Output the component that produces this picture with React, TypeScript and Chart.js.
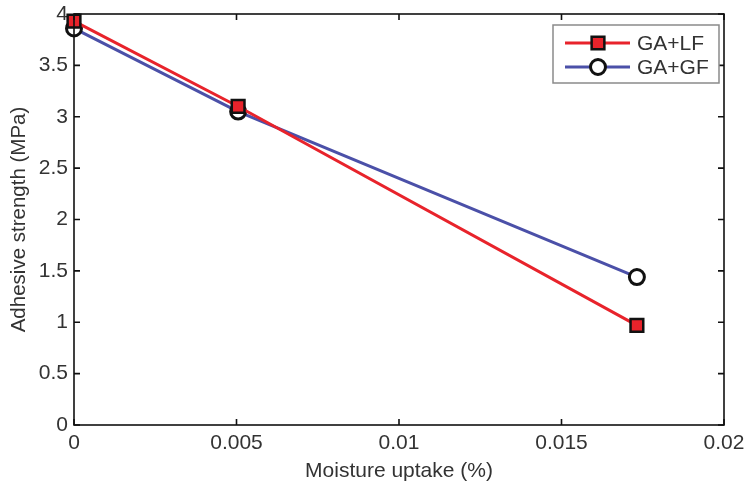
import React, { useEffect, useRef } from "react";
import { Chart, registerables } from "chart.js";

Chart.register(...registerables);

const xTicks = [0, 0.005, 0.01, 0.015, 0.02];
const yTicks = [0, 0.5, 1, 1.5, 2, 2.5, 3, 3.5, 4];
const moisture = [0, 0.00505, 0.01732];
const gaLF = [3.93, 3.1, 0.97];
const gaGF = [3.86, 3.05, 1.44];
const seriesNames = ["GA+LF", "GA+GF"];

const FONT = "'Liberation Sans', Arial, sans-serif";

const frame = {
  id: "frame",
  afterDatasetsDraw(chart: any) {
    const { ctx, chartArea: a, scales } = chart;
    ctx.save();
    ctx.strokeStyle = "#111";
    ctx.lineWidth = 1.6;
    ctx.strokeRect(a.left, a.top, a.right - a.left, a.bottom - a.top);
    const t = 6;
    ctx.beginPath();
    xTicks.forEach((v) => {
      const px = scales.x.getPixelForValue(v);
      ctx.moveTo(px, a.bottom);
      ctx.lineTo(px, a.bottom - t);
      ctx.moveTo(px, a.top);
      ctx.lineTo(px, a.top + t);
    });
    yTicks.forEach((v) => {
      const py = scales.y.getPixelForValue(v);
      ctx.moveTo(a.left, py);
      ctx.lineTo(a.left + t, py);
      ctx.moveTo(a.right, py);
      ctx.lineTo(a.right - t, py);
    });
    ctx.stroke();
    ctx.restore();
  },
  afterDraw(chart: any) {
    const { ctx } = chart;
    ctx.save();
    const bx = 553, by = 25, bw = 166, bh = 58;
    ctx.fillStyle = "#fff";
    ctx.fillRect(bx, by, bw, bh);
    ctx.strokeStyle = "#8a8a8a";
    ctx.lineWidth = 1.5;
    ctx.strokeRect(bx, by, bw, bh);
    const rows = [43, 67];
    chart.data.datasets.forEach((ds: any, i: number) => {
      const y = rows[i];
      ctx.strokeStyle = ds.borderColor;
      ctx.lineWidth = 3;
      ctx.beginPath();
      ctx.moveTo(565, y);
      ctx.lineTo(630, y);
      ctx.stroke();
      ctx.lineWidth = ds.pointBorderWidth;
      ctx.strokeStyle = ds.pointBorderColor;
      ctx.fillStyle = ds.pointBackgroundColor;
      ctx.beginPath();
      if (ds.pointStyle === "rect") {
        const s = ds.pointRadius * Math.SQRT1_2;
        ctx.rect(598 - s, y - s, 2 * s, 2 * s);
      } else {
        ctx.arc(598, y, ds.pointRadius, 0, Math.PI * 2);
      }
      ctx.fill();
      ctx.stroke();
      ctx.fillStyle = "#333";
      ctx.font = `21px ${FONT}`;
      ctx.textBaseline = "middle";
      ctx.textAlign = "left";
      ctx.fillText(ds.label, 637, y + 1);
    });
    ctx.restore();
  },
};

export default function App() {
  const ref = useRef<HTMLCanvasElement>(null);
  useEffect(() => {
    document.body.style.margin = "0";
    const chart = new Chart(ref.current!, {
      type: "line",
      data: {
        datasets: [
          {
            label: seriesNames[0],
            data: moisture.map((x, i) => ({ x, y: gaLF[i] })),
            borderColor: "#e8232b",
            borderWidth: 3,
            pointStyle: "rect",
            pointRadius: 9,
            pointBackgroundColor: "#e8232b",
            pointBorderColor: "#111",
            pointBorderWidth: 2.5,
            clip: false,
          } as any,
          {
            label: seriesNames[1],
            data: moisture.map((x, i) => ({ x, y: gaGF[i] })),
            borderColor: "#4b50a8",
            borderWidth: 3,
            pointStyle: "circle",
            pointRadius: 7.5,
            pointBackgroundColor: "#fff",
            pointBorderColor: "#111",
            pointBorderWidth: 3,
            clip: false,
          } as any,
        ],
      },
      options: {
        animation: false,
        responsive: false,
        devicePixelRatio: 1,
        layout: { padding: { top: 14, right: 21, left: 0, bottom: 0 } },
        plugins: { legend: { display: false }, tooltip: { enabled: false } },
        scales: {
          x: {
            type: "linear",
            min: 0,
            max: 0.02,
            afterBuildTicks: (s: any) => {
              s.ticks = xTicks.map((v) => ({ value: v }));
            },
            afterFit: (s: any) => {
              s.height = 57;
              s.paddingLeft = 0;
              s.paddingRight = 0;
            },
            grid: { display: false, drawTicks: false },
            border: { display: false },
            ticks: {
              padding: 6,
              color: "#333",
              font: { family: FONT, size: 21 },
              callback: (v: any) => String(v),
            },
            title: {
              display: true,
              text: "Moisture uptake (%)",
              color: "#333",
              font: { family: FONT, size: 21 },
              padding: { top: 0, bottom: -2 },
            },
          },
          y: {
            type: "linear",
            min: 0,
            max: 4,
            afterBuildTicks: (s: any) => {
              s.ticks = yTicks.map((v) => ({ value: v }));
            },
            afterFit: (s: any) => {
              s.width = 74;
              s.paddingTop = 0;
              s.paddingBottom = 0;
            },
            grid: { display: false, drawTicks: false },
            border: { display: false },
            ticks: {
              padding: 6,
              color: "#333",
              font: { family: FONT, size: 21 },
              callback: (v: any) => String(v),
            },
            title: {
              display: true,
              text: "Adhesive strength (MPa)",
              color: "#333",
              font: { family: FONT, size: 20.5 },
              padding: { top: 7, bottom: 0 },
            },
          },
        },
      },
      plugins: [frame],
    });
    return () => chart.destroy();
  }, []);
  return (
    <div style={{ width: 745, height: 482 }}>
      <canvas ref={ref} width={745} height={482} style={{ display: "block" }} />
    </div>
  );
}
